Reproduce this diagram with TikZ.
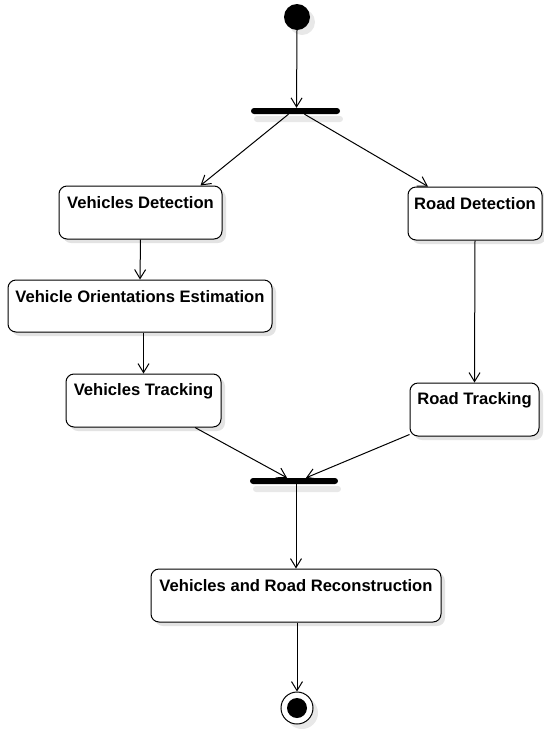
\documentclass[tikz,border=0pt]{standalone}
\usepackage{fontspec}
\setmainfont{Liberation Sans}
\usetikzlibrary{arrows.meta,shadows,calc}
\tikzset{
  shad/.style={drop shadow={shadow xshift=4pt,shadow yshift=-4pt,fill=black!11,opacity=1}},
  lbl/.style={font=\fontsize{16.6}{19}\selectfont\bfseries,inner sep=0pt},
  act/.style={draw=black,line width=1pt,rounded corners=8pt,fill=white,shad,inner sep=0pt,
    label={[lbl,anchor=center,yshift=-17.5pt]north:#1}},
  bar/.style={fill=black,draw=none,rounded corners=3pt,minimum height=6pt,inner sep=0pt,
    drop shadow={shadow xshift=3pt,shadow yshift=-8pt,fill=black!9,opacity=1}},
  flow/.style={draw=black,line width=1pt,-{Straight Barb[length=9pt,width=11pt,line width=1pt]}}
}
\begin{document}
\begin{tikzpicture}[x=1pt,y=-1pt]
\useasboundingbox (0,0) rectangle (544,729);
\node[circle,fill=black,minimum size=26pt,inner sep=0pt,
  drop shadow={shadow xshift=5pt,shadow yshift=-5pt,fill=black!9,opacity=1}] (start) at (297,17) {};
\node[bar,minimum width=89pt] (fork) at (295.5,111) {};
\node[act={Vehicles Detection},minimum width=163pt,minimum height=53pt] (vd) at (140.5,212.5) {};
\node[act={Road Detection},minimum width=134pt,minimum height=53pt] (rd) at (475,213.5) {};
\node[act={Vehicle Orientations Estimation},minimum width=264pt,minimum height=52pt] (voe) at (140,306) {};
\node[act={Vehicles Tracking},minimum width=155pt,minimum height=53pt] (vt) at (143.5,400.5) {};
\node[act={Road Tracking},minimum width=129pt,minimum height=53pt] (rt) at (474.5,409.5) {};
\node[bar,minimum width=88pt] (join) at (294,481) {};
\node[act={Vehicles and Road Reconstruction},minimum width=290pt,minimum height=53pt] (var) at (296,595.5) {};
\node[circle,draw=black,line width=1pt,fill=white,minimum size=32pt,inner sep=0pt,
  drop shadow={shadow xshift=5pt,shadow yshift=-5pt,fill=black!9,opacity=1}] (end) at (297,708) {};
\node[circle,fill=black,minimum size=20pt,inner sep=0pt] (endin) at (end.center) {};

\draw[flow] (start.south) -- ($(fork.north)+(1,0)$);
\draw[flow] ($(fork.south)+(-7,0)$) -- ($(vd.north)+(60,0)$);
\draw[flow] ($(fork.south)+(9,0)$) -- ($(rd.north)+(-47,0)$);
\draw[flow] (vd.south) -- (voe.north);
\draw[flow] (voe.south -| vt.north) -- (vt.north);
\draw[flow] (rd.south) -- (rt.north);
\draw[flow] ($(vt.south)+(51.5,0)$) -- ($(join.north)+(-7,0)$);
\draw[flow] ($(rt.south west)+(0,-2)$) -- ($(join.north)+(12,0)$);
\draw[flow] (join.south -| var.north) -- (var.north);
\draw[flow] (var.south -| end.north) -- (end.north);
\end{tikzpicture}
\end{document}
